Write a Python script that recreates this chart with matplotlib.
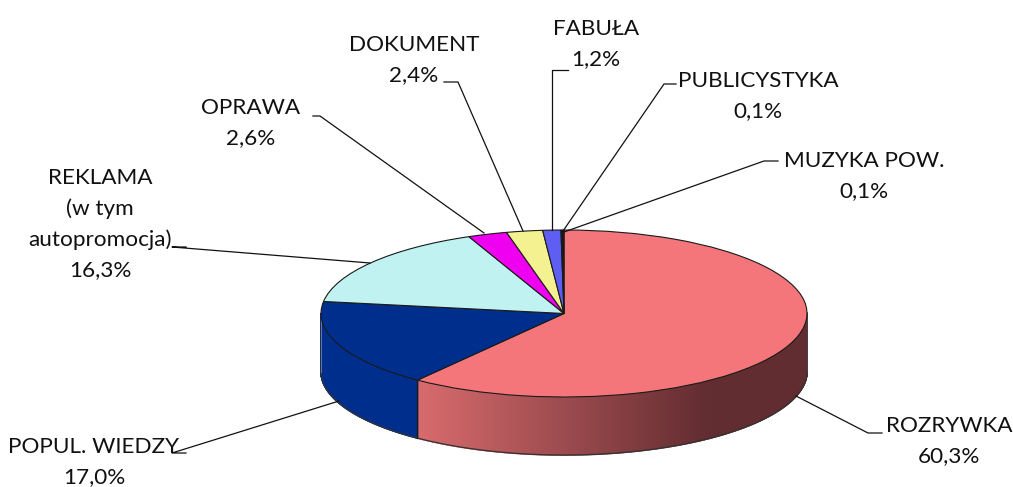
import numpy as np
import matplotlib
matplotlib.use("Agg")
import matplotlib.pyplot as plt
from matplotlib.colors import to_rgb

plt.rcParams['font.family'] = ['Lato', 'DejaVu Sans']

categories = ["ROZRYWKA", "POPUL. WIEDZY", "REKLAMA\n(w tym\nautopromocja)", "OPRAWA",
              "DOKUMENT", "FABUŁA", "PUBLICYSTYKA", "MUZYKA POW."]
values = [60.3, 17.0, 16.3, 2.6, 2.4, 1.2, 0.1, 0.1]
value_labels = ["60,3%", "17,0%", "16,3%", "2,6%", "2,4%", "1,2%", "0,1%", "0,1%"]
colors = ["#F4767B", "#002E8C", "#C0F2F2", "#F000F0", "#F4F290", "#5E5EF2", "#1A1A3A", "#101010"]

W, H = 1013, 487
CX, CY, RX, RY, DEPTH = 564, 313.5, 243, 83.5, 58

fig = plt.figure(figsize=(W / 100, H / 100), dpi=100)
ax = fig.add_axes([(CX - RX) / W, 1 - (CY + RY) / H, 2 * RX / W, 2 * RY / H])
over = fig.add_axes([0, 0, 1, 1], zorder=5)
over.set_xlim(0, W); over.set_ylim(H, 0); over.axis("off")

wedges, _ = ax.pie(values, colors=colors, startangle=90, counterclock=False, radius=1,
                   wedgeprops=dict(edgecolor="#1a1a1a", linewidth=0.8, zorder=3))
ax.set_aspect("auto")
ax.set_xlim(-1, 1); ax.set_ylim(-1, 1)
ax.patch.set_alpha(0)
for w in wedges:
    w.set_clip_on(False)

d = DEPTH / RY
def shade(base, x):
    base = np.array(to_rgb(base))
    if base[0] < 0.2:
        return tuple(base)
    t = np.clip((x + 0.605) / (0.58 + 0.605), 0, 1)
    start = np.array([0.85, 0.42, 0.43]); end = np.array([0.385, 0.175, 0.19])
    return tuple(start + (end - start) * t)

cum = 0.0
for v, c in zip(values, colors):
    a0 = np.radians(90 - cum * 3.6)
    a1 = np.radians(90 - (cum + v) * 3.6)
    cum += v
    ts = np.linspace(a0, a1, max(2, int(abs(a1 - a0) * 120)))
    for p, q in zip(ts[:-1], ts[1:]):
        if np.sin(p) > 0 and np.sin(q) > 0:
            continue
        xs = [np.cos(p), np.cos(q), np.cos(q), np.cos(p)]
        ys = [np.sin(p), np.sin(q), np.sin(q) - d, np.sin(p) - d]
        col = shade(c, 0.5 * (xs[0] + xs[1]))
        ax.fill(xs, ys, color=col, lw=1.2, ec=col, zorder=2, clip_on=False, joinstyle="round")
    t2 = ts[np.sin(ts) <= 0.02]
    if len(t2):
        ax.plot(np.cos(t2), np.sin(t2) - d, color="#333333", lw=0.9, zorder=2.5, clip_on=False)

th = np.radians(90 - values[0] * 3.6)
ax.plot([np.cos(th)] * 2, [np.sin(th), np.sin(th) - d], color="#1a1a1a", lw=0.9, zorder=2.6, clip_on=False)
ax.plot([-1, -1], [0, -d], color="#777777", lw=0.7, zorder=2.6, clip_on=False)
ax.plot([1, 1], [0, -d], color="#444444", lw=0.7, zorder=2.6, clip_on=False)

label_pos = [(949, 441), (94, 462), (100, 224), (251, 123), (414, 60), (596, 44), (758, 96), (864, 176)]
leaders = [
    [(882, 433), (868, 433), (796, 396)],
    [(186, 453), (172, 453), (339, 401)],
    [(186, 247), (172, 247), (370, 263)],
    [(313, 116), (320, 116), (484, 233)],
    [(444, 82), (458, 82), (523, 231)],
    [(568, 70), (552, 70), (552, 230)],
    [(676, 84), (664, 84), (563, 231)],
    [(778, 161), (764, 161), (564, 232)],
]
for cat, val, (x, y), pts in zip(categories, value_labels, label_pos, leaders):
    over.text(x, y, cat + "\n" + val, ha="center", va="center", fontsize=16.2,
              color="#111111", linespacing=1.62, clip_on=False)
    over.plot(*zip(*pts), color="#111111", lw=0.9)

fig.savefig("out.png", dpi=100, facecolor="white")
